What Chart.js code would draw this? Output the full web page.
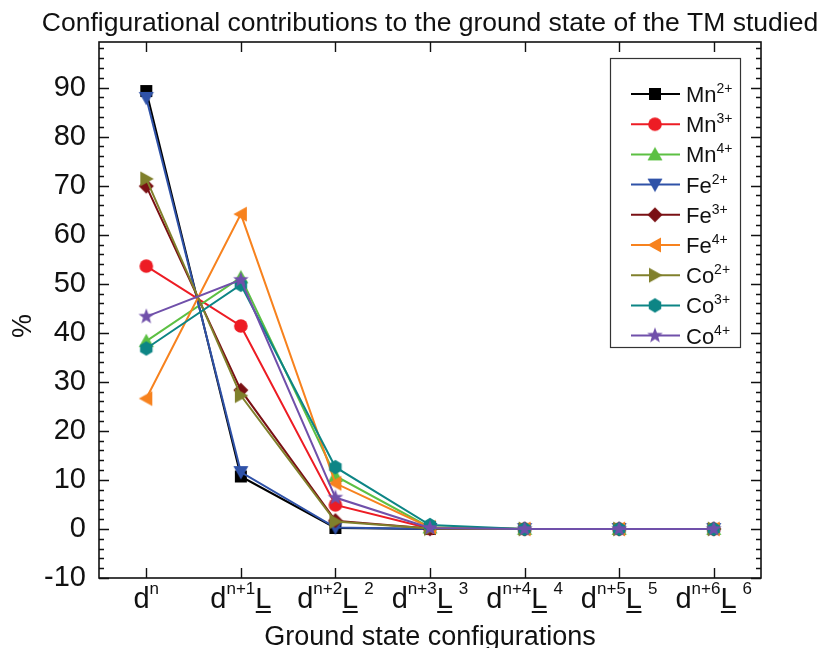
<!DOCTYPE html>
<html>
<head>
<meta charset="utf-8">
<script src="https://cdn.jsdelivr.net/npm/chart.js@4.4.1/dist/chart.umd.min.js"></script>
<style>
  html, body { margin: 0; padding: 0; background: #ffffff; }
  #wrap { width: 822px; height: 648px; position: relative; }
</style>
</head>
<body>
<div id="wrap"><canvas id="c" width="822" height="648"></canvas></div>
<script>
const FONT = '"Liberation Sans", Arial, Helvetica, sans-serif';

// Ground state configurations (x categories)
const configs = ['d^n', 'd^n+1 L', 'd^n+2 L^2', 'd^n+3 L^3', 'd^n+4 L^4', 'd^n+5 L^5', 'd^n+6 L^6'];
const dExp = ['n', 'n+1', 'n+2', 'n+3', 'n+4', 'n+5', 'n+6'];
const ligandExp = ['', '', '2', '3', '4', '5', '6'];
const hasLigand = [false, true, true, true, true, true, true];

// Y axis ticks
const yTicks = [-10, 0, 10, 20, 30, 40, 50, 60, 70, 80, 90];

// Ions
const ions = ['Mn', 'Mn', 'Mn', 'Fe', 'Fe', 'Fe', 'Co', 'Co', 'Co'];
const charges = ['2+', '3+', '4+', '2+', '3+', '4+', '2+', '3+', '4+'];

// Contribution (%) of each configuration
const mn2 = [89.3, 10.7, 0.2, 0.0, 0.0, 0.0, 0.0];
const mn3 = [53.6, 41.4, 4.9, 0.1, 0.0, 0.0, 0.0];
const mn4 = [38.3, 51.3, 10.8, 0.3, 0.0, 0.0, 0.0];
const fe2 = [87.9, 11.6, 0.3, 0.0, 0.0, 0.0, 0.0];
const fe3 = [69.9, 28.3, 1.7, 0.1, 0.0, 0.0, 0.0];
const fe4 = [26.6, 64.2, 9.3, 0.3, 0.0, 0.0, 0.0];
const co2 = [71.4, 27.2, 1.5, 0.1, 0.0, 0.0, 0.0];
const co3 = [36.8, 49.8, 12.6, 0.8, 0.0, 0.0, 0.0];
const co4 = [43.3, 50.8, 6.4, 0.2, 0.0, 0.0, 0.0];
const seriesValues = [mn2, mn3, mn4, fe2, fe3, fe4, co2, co3, co4];

const colors = ['#000000', '#ed1c24', '#5cc043', '#2f52a8', '#7a1014', '#f7821e', '#80802c', '#0d8585', '#7050aa'];
const shapes = ['square', 'circle', 'triangle', 'down', 'diamond', 'left', 'right', 'hexagon', 'star'];

// Marker sprites used as point styles
function makeMarker(shape, color) {
  const S = 18;
  const cv = document.createElement('canvas');
  cv.width = S; cv.height = S;
  const g = cv.getContext('2d');
  const c = S / 2;
  g.fillStyle = color;
  g.beginPath();
  const poly = (pts) => { g.moveTo(c + pts[0][0], c + pts[0][1]); for (let k = 1; k < pts.length; k++) g.lineTo(c + pts[k][0], c + pts[k][1]); g.closePath(); };
  switch (shape) {
    case 'square': g.rect(c - 6, c - 6, 12, 12); break;
    case 'circle': g.arc(c, c, 6.8, 0, Math.PI * 2); break;
    case 'triangle': poly([[0, -7.5], [7.5, 6], [-7.5, 6]]); break;
    case 'down': poly([[0, 7.5], [7.5, -6], [-7.5, -6]]); break;
    case 'diamond': poly([[0, -7.5], [7.5, 0], [0, 7.5], [-7.5, 0]]); break;
    case 'left': poly([[-7.5, 0], [6, -7.5], [6, 7.5]]); break;
    case 'right': poly([[7.5, 0], [-6, -7.5], [-6, 7.5]]); break;
    case 'hexagon': {
      const pts = [];
      for (let k = 0; k < 6; k++) { const a = -Math.PI / 2 + k * Math.PI / 3; pts.push([7.2 * Math.cos(a), 7.2 * Math.sin(a)]); }
      poly(pts); break;
    }
    case 'star': {
      const pts = [];
      for (let k = 0; k < 10; k++) { const r = k % 2 === 0 ? 8.2 : 3.4; const a = -Math.PI / 2 + k * Math.PI / 5; pts.push([r * Math.cos(a), r * Math.sin(a)]); }
      poly(pts); break;
    }
  }
  g.fill();
  return cv;
}
const markers = shapes.map((s, i) => makeMarker(s, colors[i]));

// Draw a run of text pieces (base, superscript, underlined) left to right
function pieceWidth(ctx, p) { ctx.font = p.size + 'px ' + FONT; return ctx.measureText(p.t).width + (p.gap || 0); }
function drawPieces(ctx, x, baseline, pieces, align) {
  let total = 0;
  pieces.forEach(p => total += pieceWidth(ctx, p));
  let cx = align === 'center' ? x - total / 2 : x;
  ctx.textAlign = 'left';
  ctx.textBaseline = 'alphabetic';
  pieces.forEach(p => {
    cx += (p.gap || 0);
    ctx.font = p.size + 'px ' + FONT;
    const w = ctx.measureText(p.t).width;
    ctx.fillText(p.t, cx, baseline + (p.dy || 0));
    if (p.underline) {
      ctx.fillRect(cx + 0.5, baseline + 3, w - 1, 2);
    }
    cx += w;
  });
}

const decor = {
  id: 'decor',
  afterDraw(chart) {
    const ctx = chart.ctx;
    const a = chart.chartArea;
    const xs = chart.scales.x, ys = chart.scales.y;
    ctx.save();
    ctx.fillStyle = '#111';
    ctx.strokeStyle = '#111';

    // frame
    ctx.lineWidth = 1.6;
    ctx.strokeRect(a.left, a.top, a.right - a.left, a.bottom - a.top);

    // y ticks (major and minor), on both sides, pointing inward
    ctx.lineWidth = 1.4;
    ctx.beginPath();
    for (let v = -10; v <= 98; v += 2) {
      const y = Math.round(ys.getPixelForValue(v)) + 0.5;
      const len = (v % 10 === 0) ? 10 : 5;
      ctx.moveTo(a.left, y); ctx.lineTo(a.left + len, y);
      ctx.moveTo(a.right, y); ctx.lineTo(a.right - len, y);
    }
    // x ticks at categories, bottom and top
    for (let i = 0; i < configs.length; i++) {
      const x = Math.round(xs.getPixelForTick(i)) + 0.5;
      ctx.moveTo(x, a.bottom); ctx.lineTo(x, a.bottom - 10);
      ctx.moveTo(x, a.top); ctx.lineTo(x, a.top + 10);
    }
    ctx.stroke();

    // x tick labels with superscripts and underlined L
    for (let i = 0; i < configs.length; i++) {
      const x = xs.getPixelForTick(i);
      const pieces = [{ t: 'd', size: 29 }, { t: dExp[i], size: 17, dy: -14 }];
      if (hasLigand[i]) pieces.push({ t: 'L', size: 29, underline: true });
      if (ligandExp[i]) pieces.push({ t: ligandExp[i], size: 17, dy: -14, gap: 6 });
      drawPieces(ctx, x, 608, pieces, 'center');
    }

    // axis titles
    ctx.font = '27px ' + FONT;
    ctx.textAlign = 'center';
    ctx.textBaseline = 'alphabetic';
    ctx.fillText('Ground state configurations', (a.left + a.right) / 2, 645);
    ctx.save();
    ctx.translate(31, 326);
    ctx.rotate(-Math.PI / 2);
    ctx.fillText('%', 0, 0);
    ctx.restore();

    // title
    ctx.font = '26.5px ' + FONT;
    ctx.fillText('Configurational contributions to the ground state of the TM studied', (a.left + a.right) / 2, 31);

    // legend
    ctx.lineWidth = 1.2;
    ctx.strokeStyle = '#333';
    ctx.strokeRect(610.5, 58.5, 130, 289);
    for (let i = 0; i < ions.length; i++) {
      const y = 94 + i * 30.2;
      ctx.strokeStyle = colors[i];
      ctx.lineWidth = 2;
      ctx.beginPath(); ctx.moveTo(631, y); ctx.lineTo(680, y); ctx.stroke();
      ctx.drawImage(markers[i], 655 - markers[i].width / 2, y - markers[i].height / 2);
      ctx.fillStyle = '#111';
      drawPieces(ctx, 686, y + 8, [{ t: ions[i], size: 22 }, { t: charges[i], size: 14, dy: -9 }], 'left');
    }
    ctx.restore();
  }
};

const datasets = seriesValues.map((vals, i) => ({
  label: ions[i] + charges[i],
  data: vals,
  borderColor: colors[i],
  backgroundColor: colors[i],
  borderWidth: 2,
  pointStyle: markers[i],
  pointRadius: 7,
  tension: 0,
  order: seriesValues.length - i
}));

new Chart(document.getElementById('c'), {
  type: 'line',
  data: { labels: configs, datasets },
  options: {
    responsive: false,
    animation: false,
    devicePixelRatio: 1,
    layout: { padding: { top: 42, right: 61, left: 0, bottom: 0 } },
    plugins: { legend: { display: false }, title: { display: false }, tooltip: { enabled: false } },
    scales: {
      x: {
        type: 'category',
        offset: true,
        grid: { display: false, drawTicks: false },
        border: { display: false },
        ticks: { display: false },
        afterFit(scale) { scale.height = 70; }
      },
      y: {
        min: -10,
        max: 99.3,
        grid: { display: false, drawTicks: false },
        border: { display: false },
        afterBuildTicks(scale) { scale.ticks = yTicks.map(v => ({ value: v })); },
        afterFit(scale) { scale.width = 99; },
        ticks: {
          padding: 13,
          color: '#111',
          font: { family: FONT, size: 29 },
          callback: (v) => String(v)
        }
      }
    }
  },
  plugins: [decor]
});
</script>
</body>
</html>
